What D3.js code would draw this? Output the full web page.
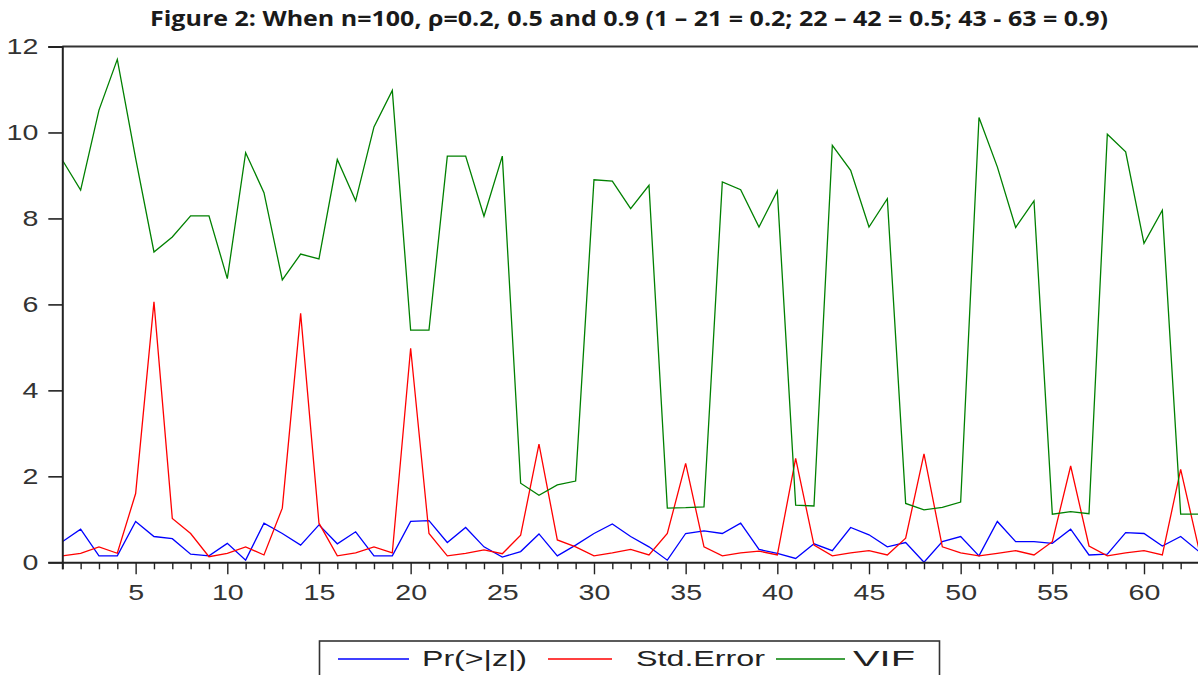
<!DOCTYPE html>
<html>
<head>
<meta charset="utf-8">
<script src="https://cdn.jsdelivr.net/npm/d3@7"></script>
<style>
  body { margin: 0; background: #ffffff; }
  svg { display: block; }
</style>
</head>
<body>
<svg id="chart" width="1198" height="675"></svg>
<script>
// ---------- DATA ----------
const titleText = "Figure 2: When n=100, \u03c1=0.2, 0.5 and 0.9 (1 \u2013 21 = 0.2; 22 \u2013 42 = 0.5; 43 - 63 = 0.9)";
const observations = [1,2,3,4,5,6,7,8,9,10,11,12,13,14,15,16,17,18,19,20,21,
  22,23,24,25,26,27,28,29,30,31,32,33,34,35,36,37,38,39,40,41,42,
  43,44,45,46,47,48,49,50,51,52,53,54,55,56,57,58,59,60,61,62,63];
const prZ = [0.48,0.77,0.15,0.15,0.95,0.60,0.55,0.19,0.15,0.44,0.05,0.91,0.67,0.40,0.87,0.43,0.71,0.15,0.15,0.95,0.97,
  0.46,0.81,0.36,0.12,0.25,0.66,0.15,0.40,0.67,0.89,0.60,0.36,0.05,0.67,0.73,0.67,0.91,0.30,0.21,0.09,0.43,
  0.27,0.81,0.64,0.36,0.46,0.00,0.48,0.60,0.15,0.95,0.48,0.48,0.44,0.77,0.17,0.19,0.69,0.67,0.38,0.60,0.25];
const stdError = [0.15,0.21,0.36,0.21,1.60,6.06,1.02,0.67,0.13,0.21,0.36,0.17,1.26,5.79,0.91,0.15,0.22,0.36,0.22,4.98,0.67,
  0.15,0.21,0.29,0.20,0.63,2.75,0.52,0.36,0.15,0.22,0.30,0.17,0.67,2.30,0.36,0.15,0.22,0.26,0.17,2.42,0.40,
  0.15,0.22,0.27,0.17,0.56,2.52,0.36,0.22,0.15,0.21,0.27,0.17,0.48,2.24,0.38,0.15,0.22,0.27,0.17,2.16,0.30];
const vif = [9.36,8.66,10.52,11.70,9.40,7.22,7.57,8.06,8.06,6.60,9.53,8.60,6.57,7.17,7.06,9.37,8.41,10.13,10.98,5.40,5.40,
  9.45,9.45,8.05,9.45,1.84,1.56,1.80,1.89,8.90,8.87,8.23,8.77,1.26,1.27,1.29,8.85,8.67,7.80,8.64,1.33,1.31,
  9.70,9.12,7.80,8.46,1.37,1.22,1.28,1.40,10.35,9.20,7.79,8.41,1.12,1.18,1.13,9.96,9.55,7.42,8.19,1.12,1.12];
const yTicks = [0,2,4,6,8,10,12];
const xLabelTicks = [5,10,15,20,25,30,35,40,45,50,55,60];
const seriesNames = ["Pr(>|z|)", "Std.Error", "VIF"];
const seriesColors = ["#0000ff", "#ff0000", "#008000"];
const seriesData = [prZ, stdError, vif];

// ---------- LAYOUT ----------
const svg = d3.select("#chart");
const plotLeft = 62.3, plotRight = 1199, plotTop = 46.5, plotBottom = 562.3;
const stretch = 1.33;
const fontFam = "'Liberation Sans', Arial, sans-serif";

const x = d3.scaleLinear().domain([1, 63]).range([plotLeft, plotRight]);
const y = d3.scaleLinear().domain([0, 12]).range([plotBottom, plotTop]);

// Title
svg.append("text")
  .attr("x", 150).attr("y", 26)
  .attr("font-family", "'Open Sans', sans-serif")
  .attr("font-weight", "bold")
  .attr("font-size", 21)
  .attr("fill", "#1a1a1a")
  .attr("textLength", 958)
  .attr("lengthAdjust", "spacingAndGlyphs")
  .text(titleText);

// Lines
const line = d3.line()
  .x((d, i) => x(observations[i]))
  .y(d => y(d));

const plot = svg.append("g");
seriesData.forEach((s, k) => {
  plot.append("path")
    .datum(s)
    .attr("fill", "none")
    .attr("stroke", seriesColors[k])
    .attr("stroke-width", 1.3)
    .attr("stroke-linejoin", "miter")
    .attr("d", line);
});

// Top frame line
svg.append("line")
  .attr("x1", plotLeft).attr("x2", 1198)
  .attr("y1", y(12)).attr("y2", y(12))
  .attr("stroke", "#333").attr("stroke-width", 2);

// Y axis
const yAxis = svg.append("g")
  .attr("transform", `translate(${plotLeft},0)`)
  .call(d3.axisLeft(y).tickValues(yTicks).tickSize(14).tickPadding(10).tickFormat(d3.format("d")));
yAxis.select(".domain").attr("stroke", "#222").attr("stroke-width", 2);
yAxis.selectAll(".tick line").attr("stroke", "#222").attr("stroke-width", 1.6);
yAxis.selectAll(".tick text")
  .attr("font-family", fontFam).attr("font-size", 21.5).attr("fill", "#333")
  .each(function() {
    const t = d3.select(this);
    const tx = +t.attr("x");
    t.attr("x", 0).attr("transform", `translate(${tx},0) scale(${stretch},1)`);
  });

// X axis (minor ticks every observation, labels every 5)
const xAxis = svg.append("g")
  .attr("transform", `translate(0,${plotBottom})`)
  .call(d3.axisBottom(x).tickValues(observations).tickSize(7).tickPadding(0)
    .tickFormat(d => xLabelTicks.includes(d) ? d : ""));
xAxis.select(".domain").attr("stroke", "#222").attr("stroke-width", 2);
xAxis.selectAll(".tick line")
  .attr("stroke", "#222").attr("stroke-width", 1.4)
  .attr("y2", d => xLabelTicks.includes(d) ? 12 : 7);
xAxis.selectAll(".tick text")
  .attr("font-family", fontFam).attr("font-size", 21.5).attr("fill", "#333")
  .attr("y", 0).attr("dy", 0)
  .attr("transform", `translate(0,38) scale(${stretch},1)`);

// Legend
const lg = svg.append("g");
lg.append("rect")
  .attr("x", 319.5).attr("y", 641)
  .attr("width", 620).attr("height", 60)
  .attr("fill", "#fff").attr("stroke", "#333").attr("stroke-width", 1.6);
const legendItems = [
  {lx1: 338, lx2: 409, tx: 422, tw: 105},
  {lx1: 548, lx2: 612, tx: 636, tw: 129},
  {lx1: 776, lx2: 845, tx: 853, tw: 62}
];
legendItems.forEach((it, k) => {
  lg.append("line")
    .attr("x1", it.lx1).attr("x2", it.lx2)
    .attr("y1", 659).attr("y2", 659)
    .attr("stroke", seriesColors[k]).attr("stroke-width", 1.6);
  lg.append("text")
    .attr("x", it.tx).attr("y", 666)
    .attr("font-family", fontFam).attr("font-size", 22)
    .attr("fill", "#222")
    .attr("textLength", it.tw)
    .attr("lengthAdjust", "spacingAndGlyphs")
    .text(seriesNames[k]);
});
</script>
</body>
</html>
